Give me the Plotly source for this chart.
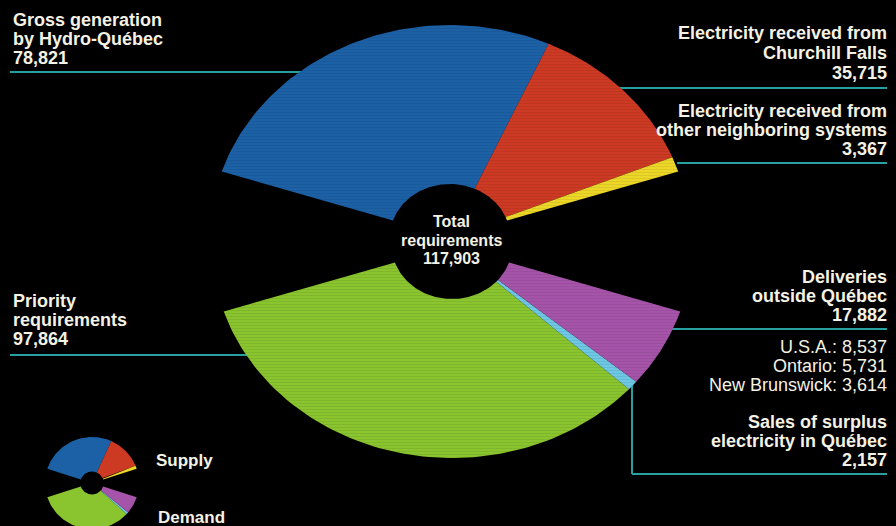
import numpy as np
import plotly.graph_objects as go

# ---------------- data ----------------
supply_names = ["Gross generation by Hydro-Québec",
                "Electricity received from Churchill Falls",
                "Electricity received from other neighboring systems"]
supply_values = [78821, 35715, 3367]
supply_colors = ["rgb(28,96,166)", "rgb(204,58,36)", "rgb(236,214,40)"]

demand_names = ["Priority requirements",
                "Sales of surplus electricity in Québec",
                "Deliveries outside Québec"]
demand_values = [97864, 2157, 17882]
demand_colors = ["rgb(138,196,46)", "rgb(110,200,228)", "rgb(166,84,170)"]

export_names = ["U.S.A.", "Ontario", "New Brunswick"]
export_values = [8537, 5731, 3614]

total_requirements = 117903

# ---------------- geometry / style ----------------
W, H = 896, 526
SPAN = 144.0          # degrees covered by each fan
HOLE = 0.25
TEXT = "rgb(244,242,228)"
LEAD = "rgb(38,160,160)"
FONT = "Liberation Sans, Arial, sans-serif"


def wedges(values, start, direction, cx, cy, r0=HOLE, r1=1.0, n=80):
    tot = float(sum(values))
    out = []
    cum = 0.0
    for v in values:
        a0 = np.radians(start + direction * SPAN * cum / tot)
        cum += v
        a1 = np.radians(start + direction * SPAN * cum / tot)
        t = np.linspace(a0, a1, n)
        xs = np.concatenate([cx + r1 * np.cos(t), cx + r0 * np.cos(t[::-1])])
        ys = np.concatenate([cy + r1 * np.sin(t), cy + r0 * np.sin(t[::-1])])
        out.append((np.append(xs, xs[0]), np.append(ys, ys[0])))
    return out


fig = go.Figure()


def add_fans(xa, ya, dy_bottom, dx_bottom, pattern):
    groups = [(wedges(supply_values, 162, -1, 0, 0), supply_colors, supply_names, supply_values),
              (wedges(demand_values, 198, 1, dx_bottom, dy_bottom), demand_colors, demand_names, demand_values)]
    for polys, colors, names, vals in groups:
        for (xs, ys), col, name, v in zip(polys, colors, names, vals):
            fig.add_trace(go.Scatter(
                x=xs, y=ys, mode="lines", fill="toself",
                fillcolor=col, line=dict(width=0, color=col),
                name=name, hoverinfo="text", text=f"{name}: {v:,}",
                showlegend=False, xaxis=xa, yaxis=ya,
                fillpattern=(dict(shape="-", size=3, solidity=0.25,
                                  fgcolor="rgba(0,0,0,0.18)", bgcolor=col)
                             if pattern else None)))


# main fans: centre at px (450,237), 240 px/unit horizontally, 212 px/unit vertically
add_fans("x", "y", -9 / 212, 2 / 240, True)
# small key icon: centre at px (92,483), 47 px/unit x, 46 px/unit y
add_fans("x2", "y2", 0, 0, False)

MX, MY, SX, SY = 450, 237, 240, 212
IX, IY, ISX, ISY = 92, 483, 47, 46

fig.update_layout(
    width=W, height=H,
    margin=dict(l=0, r=0, t=0, b=0),
    paper_bgcolor="black", plot_bgcolor="black",
    xaxis=dict(range=[-MX / SX, (W - MX) / SX], visible=False, domain=[0, 1]),
    yaxis=dict(range=[(MY - H) / SY, MY / SY], visible=False, domain=[0, 1]),
    xaxis2=dict(range=[-IX / ISX, (W - IX) / ISX], visible=False, overlaying="x",
                anchor="y2"),
    yaxis2=dict(range=[(IY - H) / ISY, IY / ISY], visible=False, overlaying="y",
                anchor="x2"),
    showlegend=False,
)


def px(x):
    return x / W


def py(y):
    return 1 - y / H


def text_block(lines, x, ys, anchor, size=18, bold=True):
    for line, y in zip(lines, ys):
        fig.add_annotation(x=px(x), y=py(y), xref="paper", yref="paper",
                           text=line, showarrow=False, xanchor=anchor,
                           yanchor="middle", borderpad=0,
                           font=dict(family=FONT, size=size, color=TEXT,
                                     weight="bold" if bold else "normal"))


def lead(x0, y0, x1, y1):
    fig.add_shape(type="line", xref="paper", yref="paper",
                  x0=px(x0), y0=py(y0), x1=px(x1), y1=py(y1),
                  line=dict(color=LEAD, width=2), layer="below")


# labels (text derived from data)
text_block(["Gross generation", "by Hydro-Québec", f"{supply_values[0]:,}"],
           12, [20, 39, 58], "left")
lead(10, 72, 310, 72)

text_block(["Electricity received from", "Churchill Falls", f"{supply_values[1]:,}"],
           888, [33, 53, 73], "right")
lead(600, 88, 887, 88)

text_block(["Electricity received from", "other neighboring systems", f"{supply_values[2]:,}"],
           888, [111, 130, 149], "right")
lead(677, 163, 887, 163)

text_block(["Priority", "requirements", f"{demand_values[0]:,}"],
           12, [301, 320, 339], "left")
lead(10, 355, 260, 355)

text_block(["Deliveries", "outside Québec", f"{demand_values[2]:,}"],
           888, [277, 296, 315], "right")
lead(660, 329, 887, 329)

text_block([f"{n}: {v:,}" for n, v in zip(export_names, export_values)],
           888, [347, 366, 385], "right", bold=False)

text_block(["Sales of surplus", "electricity in Québec", f"{demand_values[1]:,}"],
           888, [422, 441, 460], "right")
lead(632, 380, 632, 474)
lead(632, 474, 887, 474)

text_block(["Total", "requirements", f"{total_requirements:,}"],
           451, [221, 240, 259], "center", size=16)

text_block(["Supply"], 155, [460], "left", size=17)
text_block(["Demand"], 157, [517], "left", size=17)

fig.write_html("out.html")
